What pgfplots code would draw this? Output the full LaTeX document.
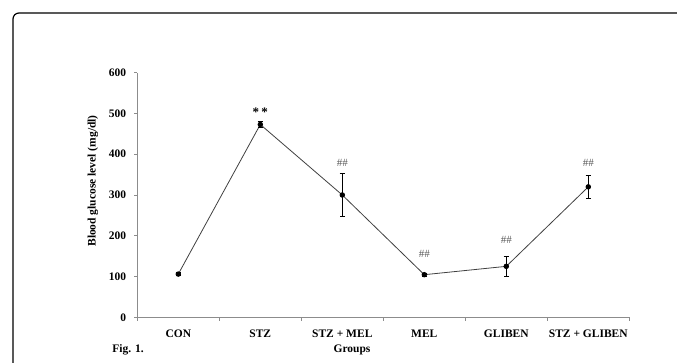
\documentclass[border=0pt]{standalone}
\usepackage{fontspec}
\setmainfont{Liberation Serif}
\usepackage{pgfplots}
\pgfplotsset{compat=1.18}
\pgfplotstableread{
x y e
0 106 4
1 473 7
2 300 52
3 104.5 3
4 125 25
5 320 28
}\glucose
\begin{document}
\begin{tikzpicture}
\path[use as bounding box] (0,0) rectangle (677pt,363pt);
\draw[line width=1.2pt, color=black, rounded corners=6pt] (13pt,-5pt) -- (13pt,350pt) -- (690pt,350pt);
\begin{axis}[
  at={(137.3pt,45.7pt)}, anchor=south west,
  scale only axis, width=492pt, height=244.6pt,
  xmin=-0.5, xmax=5.5, ymin=0, ymax=600,
  axis x line=bottom, axis y line=left,
  axis line style={black!45, line width=0.8pt, -},
  tick align=outside,
  major tick length=3.3pt, minor tick length=3.3pt,
  tick style={black!45, line width=0.8pt},
  ytick={0,100,...,600},
  xtick={0,...,5},
  xticklabels={CON, STZ, STZ + MEL, MEL, GLIBEN, STZ + GLIBEN},
  minor xtick={-0.5,0.5,...,5.5},
  major x tick style={draw=none},
  /pgf/number format/assume math mode=true,
  yticklabel style={font=\bfseries\fontsize{11.5}{12}\selectfont, inner sep=0pt, anchor=east, xshift=-7.8pt},
  xticklabel style={font=\bfseries\fontsize{11.5}{12}\selectfont, inner sep=0pt, anchor=north, yshift=-9.4pt},
  clip=false,
]
\addplot[black!75, line width=0.8pt, mark=*, mark size=2.3pt, mark options={black, fill=black},
  error bars/.cd, y dir=both, y explicit,
  error bar style={black, line width=0.7pt},
  error mark options={rotate=90, black, mark size=2.8pt, line width=0.7pt}]
  table[x=x, y=y, y error=e] {\glucose};
\node[font=\bfseries\fontsize{13}{13}\selectfont] at (axis cs:1,502) {*\,*};
\node[font=\fontsize{11}{11}\selectfont, text=black!65] at (axis cs:2,378) {\#\#};
\node[font=\fontsize{11}{11}\selectfont, text=black!65] at (axis cs:3,156) {\#\#};
\node[font=\fontsize{11}{11}\selectfont, text=black!65] at (axis cs:4,190) {\#\#};
\node[font=\fontsize{11}{11}\selectfont, text=black!65] at (axis cs:5,379) {\#\#};
\end{axis}
\node[rotate=90, font=\bfseries\fontsize{11.5}{12}\selectfont] at (93pt,182pt) {Blood glucose level (mg/dl)};
\node[font=\bfseries\fontsize{11.5}{12}\selectfont] at (128pt,13pt) {Fig. 1.};
\node[font=\bfseries\fontsize{11.5}{12}\selectfont] at (352pt,13pt) {Groups};
\end{tikzpicture}
\end{document}
